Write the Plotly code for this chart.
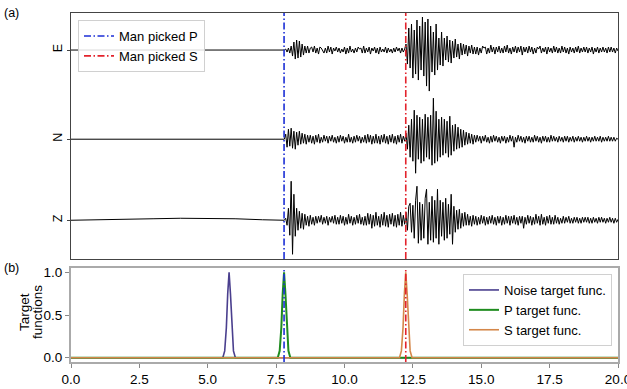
import plotly.graph_objects as go

# ---------------- data ----------------
P_PICK = 7.79
S_PICK = 12.24

# quiet pre-event part (sparse samples), amplitude in counts
pre_t = [0.0, 1.0, 2.0, 3.0, 4.0, 5.0, 6.0, 7.0, 7.75]
pre_E = [0, 0, 0, 0, 0, 0, 0, 0, 0]
pre_N = [0, 0, 0, 0, 0, 0, 0, 0, 0]
pre_Z = [0, 0.3, 0.8, 1.5, 2, 2, 1.5, 0.5, 0]

# event part, sampled every 0.05 s from 7.80 s to 20.00 s (245 samples)
EV_START = 7.80
EV_DT = 0.05

ev_E = [
    0, 1, -2, 2, -3, 4, -6, 8, -9, 10, -8, 9, -7, 6, -5, 4, -3, 4, -3, 2,
    3, -2, 4, -3, 2, -4, 3, 2, -1, -3, 2, -3, 4, -2, 3, -4, 2, -1, 3, -2,
    2, -3, 1, -2, 3, -4, 2, -3, 4, -2, 1, -3, 2, -2, 3, 1, 2, -3, 4, -3,
    2, -2, 3, -4, 2, -1, 3, -3, 2, -4, 3, -2, 1, -2, 3, -3, 2, -2, 1, -3,
    2, -2, 3, -1, 2, -3, 2, -2, 1, 6, -14, 22, -18, 26, -28, 20, -24, 30, -30, 24,
    -20, 33, -26, 28, -36, 31, -41, 24, -22, 18, -25, 26, -20, 12, -15, 18, -16, 12, -10, 14,
    -12, 10, -13, 9, -8, 11, -7, 6, -9, 7, -5, 6, -4, 5, -6, 4, -3, 5, -4, 3,
    -4, 3, -5, 2, -3, 4, 2, 3, -4, 2, -3, 5, -2, 3, -4, 3, -2, 4, -3, 2,
    -3, 4, -2, 5, -3, 2, -4, 3, -2, 4, -3, 3, -2, 4, -5, 3, -2, 3, -3, 4,
    -2, 3, -4, 2, -3, 3, 1, 4, -3, 2, -2, 3, -4, 3, -2, 2, -3, 4, -2, 3,
    -3, 2, -3, 4, -2, 3, -3, 2, -4, 3, -2, 2, -3, 3, -2, 4, -3, 2, -2, 3,
    -2, 3, -3, 2, -2, 3, -4, 2, -2, 3, -3, 2, -2, 3, -2, 2, -3, 3, -2, 3,
    -2, 2, -3, 2, -1,
]

ev_N = [
    0, 5, -8, 10, -7, 11, -9, 8, -10, 7, -6, 8, -5, 6, -4, 5, -5, 4, -3, 4,
    -4, 3, -5, 4, -3, 5, -4, 2, -3, 4, -2, 3, -4, 3, -2, 4, -3, 2, -4, 3,
    -3, 4, -2, 3, -4, 2, -3, 5, -3, 2, -4, 3, -3, 4, -2, 3, -4, 2, -3, 4,
    -4, 5, -3, 4, -5, 3, -4, 5, -4, 3, -5, 4, -3, 5, -4, 3, -5, 4, -3, 5,
    -4, 3, -5, 4, -3, 5, -4, 3, -2, 6, -10, 14, -18, 20, -22, 29, -34, 24, -20, 22,
    -24, 20, -22, 25, -18, 22, -20, 24, -26, 41, -24, 28, -22, 20, -18, 22, -16, 20, -14, 18,
    -18, 23, -16, 14, -12, 15, -10, 12, -9, 10, -8, 9, -6, 7, -5, 6, -4, 5, -5, 4,
    -3, 4, -2, 3, -4, 3, -2, 4, -3, 2, -4, 3, -3, 4, -2, 3, -3, 2, -4, 3,
    -2, 3, -4, 2, -3, 4, -2, 3, -8, 2, -3, 4, -2, 3, -3, 2, -4, 3, -2, 3,
    -3, 2, -3, 4, -2, 3, -3, 2, -4, 3, -2, 3, -3, 2, -3, 4, -2, 3, -2, 2,
    -3, 3, -2, 2, -3, 3, -2, 3, -3, 2, -2, 3, -3, 2, -2, 3, -2, 2, -3, 2,
    -2, 3, -2, 2, -3, 2, -2, 3, -2, 2, -2, 3, -3, 2, -2, 2, -2, 3, -2, 2,
    -2, 2, -2, 1, 0,
]

ev_Z = [
    0, 2, -5, 12, -15, 39, -34, 26, -16, 12, -10, 9, -8, 7, -9, 6, -5, 4, -6, 5,
    -4, 3, -5, 4, -3, 4, -2, 5, -4, 3, -3, 4, -5, 3, -2, 4, -3, 5, -4, 3,
    -4, 5, -3, 4, -5, 3, -4, 6, -3, 4, -5, 3, -4, 5, -3, 6, -4, 3, -5, 4,
    -5, 7, -4, 6, -8, 5, -6, 8, -5, 4, -7, 6, -5, 8, -6, 5, -7, 6, -4, 7,
    -6, 5, -7, 6, -5, 8, -6, 5, -4, 8, -10, 14, 17, -12, 15, -18, 20, 34, -23, 18,
    -20, 16, -18, 22, 31, -24, 18, -20, 24, -22, 20, -18, 31, -24, 20, -16, 18, -20, 22, -18,
    16, -14, 26, -24, 14, -12, 10, -9, 11, -8, 7, -6, 8, -5, 6, -5, 4, -6, 5, -4,
    4, -5, 3, -4, 5, -3, 4, -5, 3, -4, 4, -3, 5, -4, 3, -5, 4, -3, 4, -5,
    3, -4, 5, -3, 4, -5, 4, -3, 5, -4, 3, -5, 4, -3, 4, -8, 3, -4, 5, -3,
    4, -5, 3, -4, 6, -3, 4, -5, 6, -4, 3, -5, 4, -3, 5, -4, 3, -4, 5, -3,
    3, -4, 2, -3, 4, -3, 3, -2, 4, -3, 2, -3, 3, -2, 3, -3, 2, -3, 3, -2,
    3, -2, 3, -3, 2, -3, 3, -2, 2, -3, 3, -2, 3, -2, 2, -3, 2, -2, 3, -2,
    2, -3, 2, -2, 1,
]

COUNTS_PER_UNIT = 81.0
channels = ["E", "N", "Z"]
channel_offsets = [2.1, 1.0, 0.0]

# target functions
noise_t = [0.0, 5.55, 5.62, 5.68, 5.73, 5.78, 5.83, 5.88, 5.94, 6.01, 20.0]
noise_v = [0.0, 0.0, 0.08, 0.35, 0.75, 1.0, 0.75, 0.35, 0.08, 0.0, 0.0]
p_t = [0.0, 7.56, 7.63, 7.69, 7.74, 7.79, 7.84, 7.89, 7.95, 8.02, 20.0]
p_v = [0.0, 0.0, 0.08, 0.35, 0.75, 1.0, 0.75, 0.35, 0.08, 0.0, 0.0]
s_t = [0.0, 12.01, 12.08, 12.14, 12.19, 12.24, 12.29, 12.34, 12.40, 12.47, 20.0]
s_v = [0.0, 0.0, 0.08, 0.35, 0.75, 1.0, 0.75, 0.35, 0.08, 0.0, 0.0]

x_ticks = [0.0, 2.5, 5.0, 7.5, 10.0, 12.5, 15.0, 17.5, 20.0]
y2_ticks = [0.0, 0.5, 1.0]

# ---------------- figure ----------------
FONT = "Liberation Sans, Arial, Helvetica, sans-serif"
BLUE = "#1c2fd6"
RED = "#e3232c"
DASHDOT = "7px,2.5px,1.5px,2.5px"

ev_t = [round(EV_START + EV_DT * i, 3) for i in range(len(ev_E))]

fig = go.Figure()

for name, off, pre, ev in zip(channels, channel_offsets,
                               [pre_E, pre_N, pre_Z], [ev_E, ev_N, ev_Z]):
    t = pre_t + ev_t
    y = [off + v / COUNTS_PER_UNIT for v in pre + ev]
    fig.add_trace(go.Scatter(x=t, y=y, mode="lines", showlegend=False,
                             line=dict(color="black", width=1),
                             xaxis="x", yaxis="y"))

YTOP = [-0.478, 2.557]
fig.add_trace(go.Scatter(x=[P_PICK, P_PICK], y=YTOP, mode="lines", name="Man picked P",
                         line=dict(color=BLUE, width=1.6, dash=DASHDOT),
                         xaxis="x", yaxis="y", legend="legend"))
fig.add_trace(go.Scatter(x=[S_PICK, S_PICK], y=YTOP, mode="lines", name="Man picked S",
                         line=dict(color=RED, width=1.6, dash=DASHDOT),
                         xaxis="x", yaxis="y", legend="legend"))

fig.add_trace(go.Scatter(x=noise_t, y=noise_v, mode="lines", name="Noise target func.",
                         line=dict(color="#4a3f8e", width=1.6),
                         xaxis="x2", yaxis="y2", legend="legend2"))
fig.add_trace(go.Scatter(x=p_t, y=p_v, mode="lines", name="P target func.",
                         line=dict(color="#1f8c1f", width=2),
                         xaxis="x2", yaxis="y2", legend="legend2"))
fig.add_trace(go.Scatter(x=s_t, y=s_v, mode="lines", name="S target func.",
                         line=dict(color="#d4874a", width=1.6),
                         xaxis="x2", yaxis="y2", legend="legend2"))

YBOT = [-0.05, 1.05]
fig.add_trace(go.Scatter(x=[P_PICK, P_PICK], y=YBOT, mode="lines", showlegend=False,
                         line=dict(color=BLUE, width=1.6, dash=DASHDOT),
                         xaxis="x2", yaxis="y2"))
fig.add_trace(go.Scatter(x=[S_PICK, S_PICK], y=YBOT, mode="lines", showlegend=False,
                         line=dict(color=RED, width=1.6, dash=DASHDOT),
                         xaxis="x2", yaxis="y2"))

W, H = 627, 389
ML, MR, MT, MB = 71, 9, 13, 27
plot_w = W - ML - MR
plot_h = H - MT - MB


def px_x(px):
    return (px - ML) / plot_w


def px_y(py):
    return (H - MB - py) / plot_h


fig.update_layout(
    width=W, height=H,
    margin=dict(l=ML, r=MR, t=MT, b=MB, autoexpand=False),
    paper_bgcolor="white", plot_bgcolor="white",
    font=dict(family=FONT, size=13, color="black"),
    xaxis=dict(domain=[0, 1], range=[0, 20], anchor="y", showticklabels=False,
               ticks="", showgrid=False, zeroline=False, automargin=False,
               showline=True, mirror=True, linecolor="#444", linewidth=1),
    yaxis=dict(domain=[0.2951, 1], range=YTOP, anchor="x",
               tickvals=channel_offsets, ticktext=channels, tickangle=-90,
               ticks="outside", ticklen=3.5, tickcolor="#444",
               tickfont=dict(size=12.5), automargin=False,
               showgrid=False, zeroline=False,
               showline=True, mirror=True, linecolor="#444", linewidth=1),
    xaxis2=dict(domain=[0, 1], range=[0, 20], anchor="y2",
                tickvals=x_ticks, ticktext=[f"{v:.1f}" for v in x_ticks],
                ticks="outside", ticklen=4, tickcolor="#888",
                tickfont=dict(size=13.5), ticklabeloverflow="allow", automargin=False,
                showgrid=False, zeroline=False,
                showline=True, mirror=True, linecolor="#aaa", linewidth=2),
    yaxis2=dict(domain=[0, 0.2693], range=YBOT, anchor="x2",
                tickvals=y2_ticks, ticktext=[f"{v:.1f}" for v in y2_ticks],
                ticks="outside", ticklen=4, tickcolor="#888",
                tickfont=dict(size=13.5), automargin=False,
                showgrid=False, zeroline=False,
                showline=True, mirror=True, linecolor="#aaa", linewidth=2),
    legend=dict(x=px_x(78), y=px_y(20), xanchor="left", yanchor="top",
                bgcolor="rgba(255,255,255,0.85)", bordercolor="#d0d0d0", borderwidth=1,
                font=dict(size=13), tracegroupgap=0, itemwidth=30),
    legend2=dict(x=px_x(612), y=px_y(274), xanchor="right", yanchor="top",
                 bgcolor="rgba(255,255,255,0.85)", bordercolor="#d0d0d0", borderwidth=1,
                 font=dict(size=13), tracegroupgap=0, itemwidth=30),
    annotations=[
        dict(text="(a)", x=px_x(11), y=px_y(13), xref="paper", yref="paper",
             showarrow=False, font=dict(size=12.5), xanchor="center", yanchor="middle"),
        dict(text="(b)", x=px_x(11), y=px_y(268), xref="paper", yref="paper",
             showarrow=False, font=dict(size=12.5), xanchor="center", yanchor="middle"),
        dict(text="Target", x=px_x(24), y=px_y(312), xref="paper", yref="paper",
             showarrow=False, font=dict(size=13.5), textangle=-90,
             xanchor="center", yanchor="middle"),
        dict(text="functions", x=px_x(37), y=px_y(312), xref="paper", yref="paper",
             showarrow=False, font=dict(size=13.5), textangle=-90,
             xanchor="center", yanchor="middle"),
        dict(text="time(s)", x=0.5, y=px_y(385), xref="paper", yref="paper",
             showarrow=False, font=dict(size=13.5), xanchor="center", yanchor="top"),
    ],
)

fig.write_html("out.html")
